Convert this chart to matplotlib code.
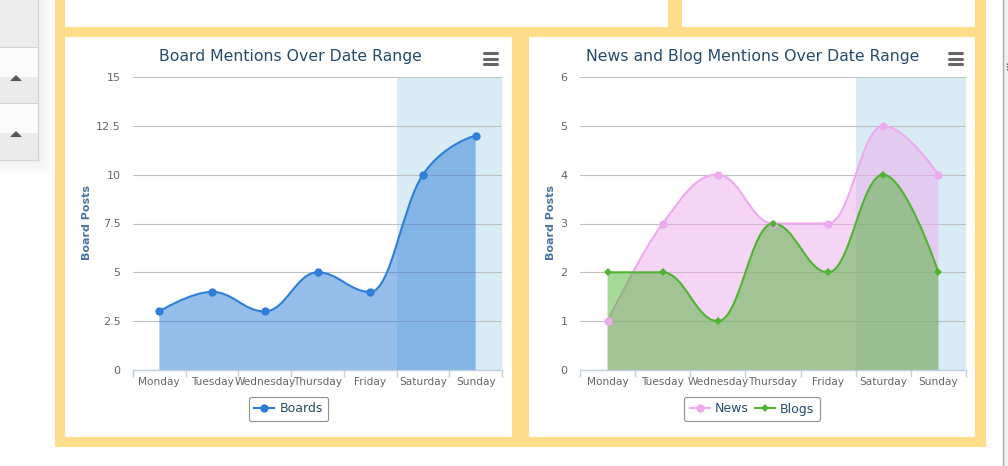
import matplotlib
matplotlib.use("Agg")
import matplotlib.pyplot as plt
from matplotlib.path import Path
from matplotlib.patches import PathPatch, Rectangle, Polygon
from matplotlib.lines import Line2D

# ----------------------------
# Data
# ----------------------------
days = ["Monday", "Tuesday", "Wednesday", "Thursday", "Friday", "Saturday", "Sunday"]
boards = [3, 4, 3, 5, 4, 10, 12]
news = [1, 3, 4, 3, 3, 5, 4]
blogs = [2, 2, 1, 3, 2, 4, 2]
weekend_band = (4.5, 6.5)

board_ticks = [0, 2.5, 5, 7.5, 10, 12.5, 15]
board_tick_labels = ["0", "2.5", "5", "7.5", "10", "12.5", "15"]
news_ticks = [0, 1, 2, 3, 4, 5, 6]

BLUE = "#2f7ed8"
PINK = "#eeaaee"
GREEN = "#50b432"
YELLOW = "#fddc8a"
BAND = "#d9ecf5"
TITLE_C = "#274b6d"
LABEL_C = "#666666"
AXTITLE_C = "#4d759e"

W, H = 1008, 466
plt.rcParams["font.family"] = ["DejaVu Sans"]


def spline_path(xs, ys):
    """Highcharts-style spline as cubic bezier path"""
    n = len(xs)
    lc = [None] * n
    rc = [None] * n
    sm = 1.5
    d = sm + 1
    for i in range(1, n - 1):
        px, py = xs[i], ys[i]
        lx, ly = xs[i - 1], ys[i - 1]
        nx, ny = xs[i + 1], ys[i + 1]
        lcx = (sm * px + lx) / d
        lcy = (sm * py + ly) / d
        rcx = (sm * px + nx) / d
        rcy = (sm * py + ny) / d
        corr = ((rcy - lcy) * (rcx - px)) / (rcx - lcx) + py - rcy
        lcy += corr
        rcy += corr
        if lcy > ly and lcy > py:
            lcy = max(ly, py)
            rcy = 2 * py - lcy
        elif lcy < ly and lcy < py:
            lcy = min(ly, py)
            rcy = 2 * py - lcy
        if rcy > ny and rcy > py:
            rcy = max(ny, py)
            lcy = 2 * py - rcy
        elif rcy < ny and rcy < py:
            rcy = min(ny, py)
            lcy = 2 * py - rcy
        lc[i] = (lcx, lcy)
        rc[i] = (rcx, rcy)
    verts = [(xs[0], ys[0])]
    codes = [Path.MOVETO]
    for i in range(1, n):
        r = rc[i - 1] or (xs[i - 1], ys[i - 1])
        l = lc[i] or (xs[i], ys[i])
        verts += [r, l, (xs[i], ys[i])]
        codes += [Path.CURVE4] * 3
    return verts, codes


def area_spline(ax, values, color, marker, ms, z):
    xs = list(range(len(values)))
    verts, codes = spline_path(xs, values)
    fill_verts = verts + [(xs[-1], 0), (xs[0], 0), (xs[0], values[0])]
    fill_codes = codes + [Path.LINETO, Path.LINETO, Path.CLOSEPOLY]
    ax.add_patch(PathPatch(Path(fill_verts, fill_codes), facecolor=color,
                           alpha=0.5, edgecolor="none", zorder=z))
    ax.add_patch(PathPatch(Path(verts, codes), facecolor="none",
                           edgecolor=color, lw=1.5, zorder=z + 0.1))
    ax.plot(xs, values, linestyle="none", marker=marker, ms=ms,
            color=color, markeredgewidth=0, zorder=10 + z)
    return Line2D([], [], color=color, lw=1.5, marker=marker, ms=ms,
                  markeredgewidth=0)


def px_axes(fig, x0, y0, x1, y1):
    return fig.add_axes([x0 / W, 1 - y1 / H, (x1 - x0) / W, (y1 - y0) / H])


def style_axes(ax, ymax, ticks, tick_labels):
    ax.set_xlim(-0.5, 6.5)
    ax.set_ylim(0, ymax)
    ax.axvspan(*weekend_band, color=BAND, lw=0, zorder=0)
    for t in ticks:
        ax.axhline(t, color="#c0c0c0", lw=0.8, zorder=1)
    for s in ["top", "right", "left"]:
        ax.spines[s].set_visible(False)
    ax.spines["bottom"].set_color("#c0d0e0")
    ax.spines["bottom"].set_linewidth(1)
    ax.spines["bottom"].set_zorder(20)
    ax.set_xticks(range(len(days)))
    ax.set_xticklabels(days, fontsize=7.6, color=LABEL_C)
    ax.set_xticks([i - 0.5 for i in range(len(days) + 1)], minor=True)
    ax.tick_params(axis="x", which="major", length=0, pad=5)
    ax.tick_params(axis="x", which="minor", length=5, color="#c0d0e0", width=1)
    ax.set_yticks(ticks)
    ax.set_yticklabels(tick_labels, fontsize=8, color=LABEL_C)
    ax.tick_params(axis="y", length=0, pad=9)
    ax.patch.set_alpha(0)


fig = plt.figure(figsize=(W / 100, H / 100), dpi=100)

# ----------------------------
# Page background (sidebar + yellow frame)
# ----------------------------
bg = fig.add_axes([0, 0, 1, 1])
bg.set_xlim(0, W)
bg.set_ylim(H, 0)
bg.axis("off")

# soft sidebar shadow
for k in range(1, 16):
    bg.add_patch(Rectangle((0, 0), 38 + k, 160 + k, color="#000000", alpha=0.005, lw=0))
for y0, y1, c in [(0, 47, "#ececec"), (47, 77, "#fbfbfb"), (77, 103, "#ebebeb"),
                  (103, 133, "#fbfbfb"), (133, 160, "#ebebeb")]:
    bg.add_patch(Rectangle((0, y0), 38, y1 - y0, color=c, lw=0))
for y in [47, 103, 160]:
    bg.plot([0, 38], [y, y], color="#d4d4d4", lw=0.8)
bg.plot([38, 38], [0, 160], color="#d0d0d0", lw=0.8)
for ty in [78, 134]:
    bg.add_patch(Polygon([(10, ty + 3), (22, ty + 3), (16, ty - 3)], closed=True, color="#555555", lw=0))

bg.add_patch(Rectangle((55, 0), 931, 447, color=YELLOW, lw=0))
for x0, y0, x1, y1 in [(65, 0, 668, 27), (682, 0, 975, 27), (65, 37, 512, 437), (529, 37, 975, 437)]:
    bg.add_patch(Rectangle((x0, y0), x1 - x0, y1 - y0, color="white", lw=0))

bg.add_patch(Rectangle((1003, 0), 5, H, color="#f0f0f0", lw=0))
bg.plot([1003, 1003], [0, H], color="#a8a8a8", lw=1)
bg.plot([1006.5, 1006.5], [63, 70], color="#555555", lw=1, linestyle=(0, (1, 1)))

# titles, axis titles, menu icons
bg.text(290, 57, "Board Mentions Over Date Range", ha="center", va="center", fontsize=11.3, color=TITLE_C)
bg.text(753, 57, "News and Blog Mentions Over Date Range", ha="center", va="center", fontsize=11.3, color=TITLE_C)
for cx in [87, 551]:
    bg.text(cx, 223, "Board Posts", rotation=90, ha="center", va="center", fontsize=8,
            fontweight="bold", color=AXTITLE_C)
for x0 in [483, 948]:
    for y in [53, 58.5, 64]:
        bg.plot([x0 + 1, x0 + 14], [y, y], color="#666666", lw=2.2, solid_capstyle="round")

# ----------------------------
# Left chart: Boards
# ----------------------------
ax1 = px_axes(fig, 133, 77, 502, 370)
style_axes(ax1, 15, board_ticks, board_tick_labels)
h_boards = area_spline(ax1, boards, BLUE, "o", 6, 3)
leg1 = ax1.legend([h_boards], ["Boards"], loc="center", bbox_to_anchor=(288.5 / W, 1 - 409 / H),
                  bbox_transform=fig.transFigure, fontsize=9, handlelength=1.6,
                  handletextpad=0.4, borderpad=0.45, fancybox=True, framealpha=1)
leg1.get_frame().set_edgecolor("#909090")
leg1.get_frame().set_linewidth(0.8)
for t in leg1.get_texts():
    t.set_color(TITLE_C)

# ----------------------------
# Right chart: News and Blogs
# ----------------------------
ax2 = px_axes(fig, 580, 77, 966, 370)
style_axes(ax2, 6, news_ticks, [str(t) for t in news_ticks])
h_news = area_spline(ax2, news, PINK, "o", 6, 3)
h_blogs = area_spline(ax2, blogs, GREEN, "D", 4.5, 4)
leg2 = ax2.legend([h_news, h_blogs], ["News", "Blogs"], loc="center", ncol=2,
                  bbox_to_anchor=(752 / W, 1 - 409 / H), bbox_transform=fig.transFigure,
                  fontsize=9, handlelength=1.6, handletextpad=0.4, columnspacing=0.5,
                  borderpad=0.45, fancybox=True, framealpha=1)
leg2.get_frame().set_edgecolor("#909090")
leg2.get_frame().set_linewidth(0.8)
for t in leg2.get_texts():
    t.set_color(TITLE_C)

fig.savefig("out.png", dpi=100)
